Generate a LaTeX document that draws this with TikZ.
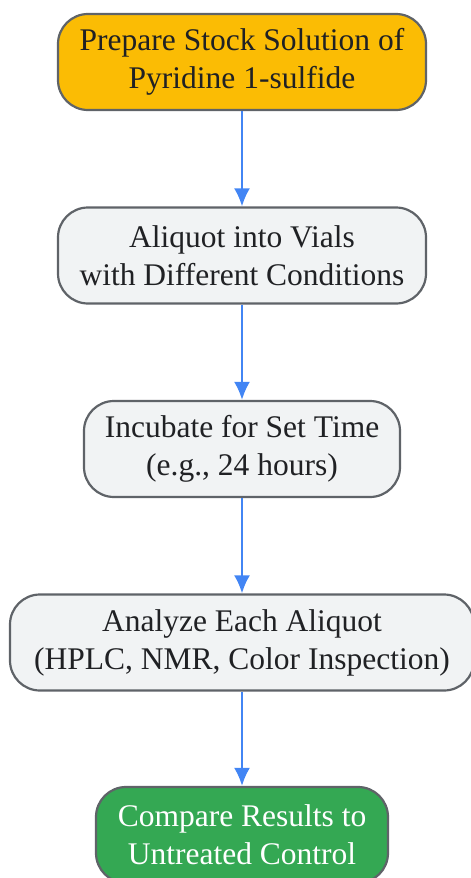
\documentclass[tikz,border=0pt]{standalone}
\usepackage{fontspec}
\setmainfont{Liberation Serif}
\usepackage{tikz}
\usetikzlibrary{arrows.meta}

\definecolor{stepgray}{HTML}{F1F3F4}
\definecolor{startorange}{HTML}{FBBC04}
\definecolor{endgreen}{HTML}{34A853}
\definecolor{edgeblue}{HTML}{4285F4}
\definecolor{rimgray}{HTML}{5F6368}
\definecolor{inkgray}{HTML}{202124}

\begin{document}
\begin{tikzpicture}[
            x=1pt,
            y=-1pt,
            stage/.style={draw=rimgray, line width=2.2pt, rounded corners=30pt,
              fill=stepgray, text=inkgray, align=center, minimum height=96pt,
              inner sep=0pt, font=\fontsize{31.5}{38}\selectfont,
              execute at begin node={\rule{0pt}{29pt}}},
            flow/.style={draw=edgeblue, line width=2.2pt, -{Latex[length=18pt,width=16pt]}},
          ]
          \useasboundingbox (0,0) rectangle (471,878);
          \node[stage, fill=startorange, minimum width=368pt] (s1) at (242,62) {Prepare Stock Solution of\\Pyridine 1-sulfide};
          \node[stage, minimum width=368pt] (s2) at (242,255.5) {Aliquot into Vials\\with Different Conditions};
          \node[stage, minimum width=316pt] (s3) at (242,449) {Incubate for Set Time\\(e.g., 24 hours)};
          \node[stage, minimum width=464pt] (s4) at (242,642.5) {Analyze Each Aliquot\\(HPLC, NMR, Color Inspection)};
          \node[stage, fill=endgreen, text=white, minimum width=292pt] (s5) at (242,835) {Compare Results to\\Untreated Control};
          \foreach \i/\j in {1/2,2/3,3/4,4/5} {
            \draw[flow] (s\i) -- (s\j);
          }
        \end{tikzpicture}
\end{document}
